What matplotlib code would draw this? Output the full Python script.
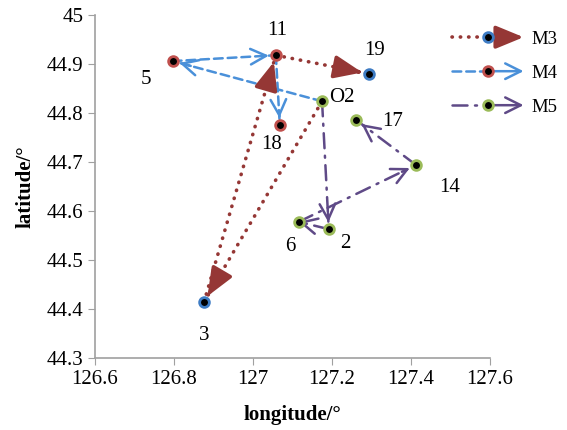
import matplotlib
matplotlib.use('Agg')
import matplotlib.pyplot as plt
from matplotlib.legend_handler import HandlerBase
from matplotlib.lines import Line2D
from matplotlib.patches import FancyArrowPatch

# point coordinates
point_names = ['O2', '11', '19', '5', '18', '3', '17', '14', '6', '2']
point_lons = [127.175, 127.058, 127.294, 126.797, 127.068, 126.876, 127.261, 127.413, 127.116, 127.192]
point_lats = [44.824, 44.918, 44.880, 44.906, 44.776, 44.414, 44.786, 44.694, 44.578, 44.563]

# routes of the three series
route_m3 = ['O2', '3', '11', '19']
route_m4 = ['O2', '5', '11', '18']
route_m5 = ['O2', '2', '6', '14', '17']
series_names = ['M3', 'M4', 'M5']

x_ticks = [126.6, 126.8, 127, 127.2, 127.4, 127.6]
y_ticks = [44.3, 44.4, 44.5, 44.6, 44.7, 44.8, 44.9, 45]

# label offsets in points
label_offsets = {
    'O2': (14, 3), '11': (1, 18), '19': (4, 17), '5': (-19, -13), '18': (-6, -14),
    '3': (0, -24), '17': (26, -1), '14': (24, -16), '6': (-6, -18), '2': (12, -10),
}

red = '#953735'
blue = '#4a90d9'
purple = '#5f4a87'
green = '#9bbb59'
marker_red = '#c0504d'
marker_blue = '#3e7cc4'

styles = {
    'M3': dict(color=red, ls=(0, (0.1, 2.2)), lw=2.6, head='-|>,head_length=0.85,head_width=0.35',
               ms=20, edge=marker_blue, frac=0.12),
    'M4': dict(color=blue, ls=(0, (3.5, 2)), lw=1.8, head='->,head_length=0.7,head_width=0.35',
               ms=16, edge=marker_red, frac=0.12),
    'M5': dict(color=purple, ls=(0, (6, 3, 0.8, 3)), lw=1.8, head='->,head_length=0.7,head_width=0.35',
               ms=16, edge=green, frac=0.12),
}
routes = {'M3': route_m3, 'M4': route_m4, 'M5': route_m5}
marker_owner = {'O2': 'M5', '11': 'M4', '19': 'M3', '5': 'M4', '18': 'M4',
                '3': 'M3', '17': 'M5', '14': 'M5', '6': 'M5', '2': 'M5'}

plt.rcParams['font.family'] = ['Liberation Serif', 'DejaVu Serif']

fig = plt.figure(figsize=(5.67, 4.30), dpi=100)
ax = fig.add_axes([0.1675, 0.1674, 0.6965, 0.7976])

lookup = {n: (x, y) for n, x, y in zip(point_names, point_lons, point_lats)}

for name in series_names:
    st = styles[name]
    route = routes[name]
    for a, b in zip(route[:-1], route[1:]):
        x0, y0 = lookup[a]
        x1, y1 = lookup[b]
        ax.plot([x0, x1], [y0, y1], color=st['color'], ls=st['ls'], lw=st['lw'],
                dash_capstyle='round', solid_capstyle='round', zorder=2)
        f = st['frac']
        ax.annotate('', xy=(x1, y1), xytext=(x1 - f * (x1 - x0), y1 - f * (y1 - y0)),
                    arrowprops=dict(arrowstyle=st['head'], color=st['color'], lw=st['lw'],
                                    mutation_scale=st['ms'], shrinkA=0, shrinkB=5),
                    zorder=3)

for n in point_names:
    x, y = lookup[n]
    ax.plot(x, y, 'o', ms=7, mfc='black', mec=styles[marker_owner[n]]['edge'], mew=2, zorder=4)
    ax.annotate(n, (x, y), xytext=label_offsets[n], textcoords='offset points',
                ha='center', va='center', fontsize=15)

ax.set_xlim(126.6, 127.6)
ax.set_ylim(44.3, 45)
ax.set_xticks(x_ticks)
ax.set_xticklabels(['126.6', '126.8', '127', '127.2', '127.4', '127.6'])
ax.set_yticks(y_ticks)
ax.set_yticklabels(['44.3', '44.4', '44.5', '44.6', '44.7', '44.8', '44.9', '45'])
ax.tick_params(direction='out', length=5, color='#a0a0a0', labelsize=15)
for s in ['top', 'right']:
    ax.spines[s].set_visible(False)
for s in ['left', 'bottom']:
    ax.spines[s].set_color('#a0a0a0')
    ax.spines[s].set_linewidth(1.2)
ax.set_xlabel('longitude/°', fontsize=15, fontweight='bold', labelpad=12)
ax.set_ylabel('latitude/°', fontsize=15, fontweight='bold', labelpad=8)


class RouteHandler(HandlerBase):
    def __init__(self, st):
        super().__init__()
        self.st = st

    def create_artists(self, legend, orig_handle, xdescent, ydescent, width, height, fontsize, trans):
        st = self.st
        y = height / 2 - ydescent
        xm = -xdescent + width * 0.5
        line = Line2D([-xdescent, xm], [y, y], color=st['color'], ls=st['ls'], lw=st['lw'],
                      dash_capstyle='round', transform=trans)
        arrow = FancyArrowPatch((xm, y), (width - xdescent, y), arrowstyle=st['head'],
                                mutation_scale=st['ms'], color=st['color'], lw=st['lw'],
                                shrinkA=0, shrinkB=0, transform=trans)
        mark = Line2D([xm], [y], marker='o', ms=7, mfc='black', mec=st['edge'], mew=2,
                      ls='none', transform=trans)
        return [line, arrow, mark]


handles = [Line2D([], [], label=n) for n in series_names]
ax.legend(handles=handles, handler_map={h: RouteHandler(styles[n]) for h, n in zip(handles, series_names)},
          loc='upper left', bbox_to_anchor=(0.768, 0.968), bbox_transform=fig.transFigure,
          frameon=False, fontsize=13.5, handlelength=3.8, handletextpad=0.4, labelspacing=0.9)

fig.savefig('out.png', dpi=100)
